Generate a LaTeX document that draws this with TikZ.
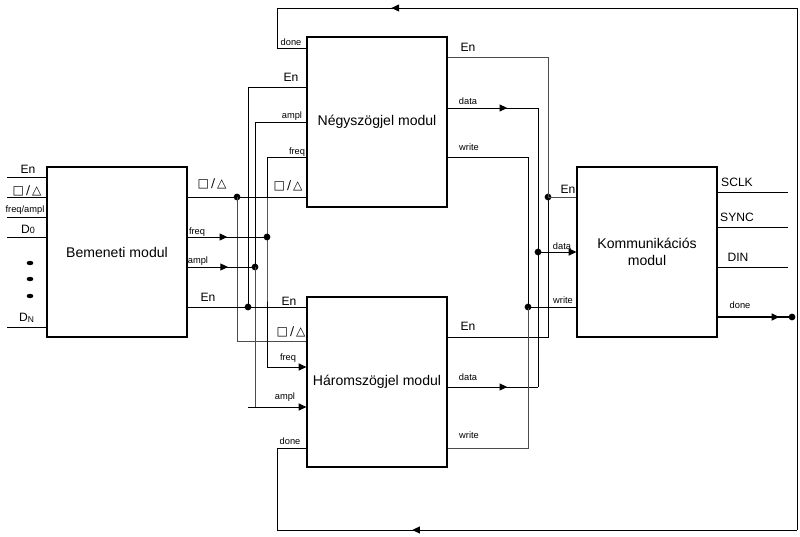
\documentclass[tikz,border=0pt]{standalone}
\usepackage{fontspec}
\setmainfont{Liberation Sans}
\newfontfamily\symfont{DejaVu Sans}
\usetikzlibrary{arrows.meta,decorations.markings}

\newcommand{\sqtri}{{\symfont □\,/\,△}}

\tikzset{
  modul/.style={draw, line width=0.8pt, minimum width=3.5cm, minimum height=4.25cm,
    inner sep=0pt, align=center, font=\fontsize{10}{12}\selectfont},
  wire/.style={line width=0.7pt},
  gwire/.style={line width=0.7pt, draw=black!70},
  pin/.style={font=\fontsize{8.6}{10}\selectfont, inner sep=0pt},
  sml/.style={font=\fontsize{6.6}{8}\selectfont, inner sep=0pt},
  tip/.style={-{Triangle[length=5.5pt,width=5pt]}},
  midtip/.style={postaction={decorate}, decoration={markings,
    mark=at position #1 with {\arrow{Triangle[length=5.5pt,width=5pt]}}}},
  joint/.style={circle, fill, inner sep=0pt, minimum size=4.8pt},
}

\begin{document}
\begin{tikzpicture}[x=0.025cm, y=-0.025cm]
\useasboundingbox (0,0) rectangle (800,537);

% modules
\node[modul] (bem) at (117,252) {Bemeneti modul};
\node[modul] (negy) at (377,122) {Négyszögjel modul};
\node[modul] (harom) at (377,382) {Háromszögjel modul};
\node[modul] (komm) at (647,252) {Kommunikációs\\modul};

% inputs of the input module
\foreach \y/\n in {177/iEn,197/iSq,217/iFa,237/iD,327/iDn}{
  \coordinate (\n) at (7,\y);
  \draw[wire] (\n) -- (\n -| bem.west);
}
\node[pin] (liEn) at (28,169) {En};
\node[pin] (liSq) at (27,191) {\sqtri};
\node[sml] (liFa) at (25,210) {freq/ampl};
\node[pin] (liD) at (28,229) {D{\fontsize{6.4}{7}\selectfont 0}};
\node[pin] (liDn) at (27,318) {D\textsubscript{N}};
\foreach \y in {263,279,296}
  \fill (30,\y) ellipse [x radius=0.085cm, y radius=0.055cm];

% joints left
\node[joint] (jSq) at (237,197) {};
\node[joint] (jFr) at (267,237) {};
\node[joint] (jAm) at (255,267) {};
\node[joint] (jEn) at (248,307) {};
\coordinate (aL) at (248,407);

% square / triangle select
\draw[wire] (bem.east |- jSq) -- (negy.west |- jSq);
\draw[gwire] (jSq.center) |- (harom.west |- 0,341);
% freq
\draw[wire, midtip=0.5] (bem.east |- jFr) -- (jFr.center);
\draw[wire, tip] (negy.west |- 0,157) -| (jFr.center) |- (harom.west |- 0,367);
% ampl
\draw[wire, midtip=0.6] (bem.east |- jAm) -- (jAm.center);
\draw[wire] (negy.west |- 0,122) -| (jAm.center);
\draw[gwire] (jAm.center) -- (jAm |- aL);
\draw[wire, tip] (aL) -- (aL -| harom.west);
% enable
\draw[wire] (bem.east |- jEn) -- (harom.west |- jEn);
\draw[wire] (negy.west |- 0,87) -| (jEn.center);

\node[pin] (lbSq) at (212,184) {\sqtri};
\node[sml] (lbFr) at (197,232) {freq};
\node[sml] (lbAm) at (198,261) {ampl};
\node[pin] (lbEn) at (208,297) {En};

\node[sml] (lnDo) at (291,42) {done};
\node[pin] (lnEn) at (291,77) {En};
\node[sml] (lnAm) at (292,116) {ampl};
\node[sml] (lnFr) at (297,152) {freq};
\node[pin] (lnSq) at (288,186) {\sqtri};

\node[pin] (lhEn) at (289,301) {En};
\node[pin] (lhSq) at (291,332) {\sqtri};
\node[sml] (lhFr) at (288,358) {freq};
\node[sml] (lhAm) at (285,397) {ampl};
\node[sml] (lhDo) at (290,441) {done};

% joints right
\node[joint] (kEn) at (548,197) {};
\node[joint] (kDa) at (538,252) {};
\node[joint] (kWr) at (528,307) {};
\coordinate (dTop) at (538,108);
\coordinate (dBot) at (538,387);

\draw[gwire] (negy.east |- 0,57) -| (kEn.center);
\draw[wire] (kEn.center) |- (harom.east |- 0,337);
\draw[gwire] (kEn.center) -- (komm.west |- kEn);

\draw[wire, midtip=0.66] (negy.east |- dTop) -- (dTop);
\draw[wire] (dTop) -- (dBot);
\draw[wire, midtip=0.66] (harom.east |- dBot) -- (dBot);
\draw[wire, tip] (kDa.center) -- (komm.west |- kDa);

\draw[wire] (negy.east |- 0,157) -| (kWr.center);
\draw[gwire] (kWr.center) |- (harom.east |- 0,448);
\draw[wire] (kWr.center) -- (komm.west |- kWr);

\node[pin] (lrEn) at (468,47) {En};
\node[sml] (lrDa) at (468,101) {data};
\node[sml] (lrWr) at (469,147) {write};
\node[pin] (lsEn) at (468,326) {En};
\node[sml] (lsDa) at (468,377) {data};
\node[sml] (lsWr) at (469,435) {write};

\node[pin] (lkEn) at (568,189) {En};
\node[sml] (lkDa) at (562,246) {data};
\node[sml] (lkWr) at (563,300) {write};

% outputs of the communication module
\foreach \y/\n in {192/oSc,227/oSy,267/oDi}{
  \coordinate (\n) at (788,\y);
  \draw[wire] (komm.east |- \n) -- (\n);
}
\node[pin] (loSc) at (737,182) {SCLK};
\node[pin] (loSy) at (737,217) {SYNC};
\node[pin] (loDi) at (738,257) {DIN};
\node[sml] (loDo) at (740,305) {done};

\node[joint] (jDone) at (792,317) {};
\draw[line width=1pt, midtip=0.83] (komm.east |- jDone) -- (jDone.center);

% done feedback
\coordinate (rT) at (797,8);
\coordinate (rB) at (797,530);
\coordinate (lT) at (277,8);
\coordinate (lB) at (277,530);
\draw[wire] (rT) -- (rB);
\draw[wire, midtip=0.78] (rT) -- (lT);
\draw[wire] (lT) |- (negy.west |- 0,48);
\draw[wire, midtip=0.74] (rB) -- (lB);
\draw[wire] (lB) |- (harom.west |- 0,448);
\end{tikzpicture}
\end{document}
